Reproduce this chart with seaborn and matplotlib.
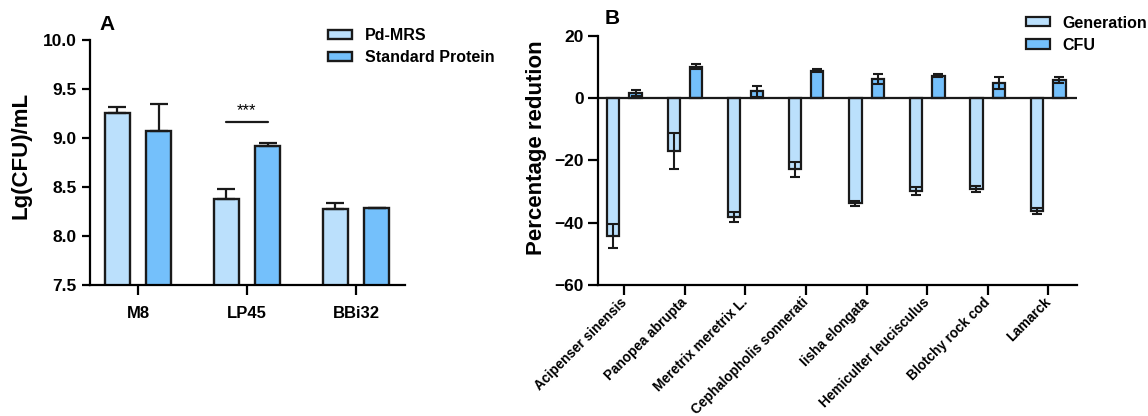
import numpy as np
import pandas as pd
import matplotlib
matplotlib.use("Agg")
import matplotlib.pyplot as plt
import seaborn as sns

# Panel A: viable counts per strain
strains = ["M8", "LP45", "BBi32"]
pd_mrs = [9.25, 8.38, 8.27]
pd_mrs_err = [0.07, 0.10, 0.07]
std_protein = [9.07, 8.92, 8.29]
std_protein_err = [0.28, 0.03, 0.0]

# Panel B: percentage reduction per protein source
species = ["Acipenser sinensis", "Panopea abrupta", "Meretrix meretrix L.",
           "Cephalopholis sonnerati", "Iisha elongata", "Hemiculter leucisculus",
           "Blotchy rock cod", "Lamarck"]
generation = [-44.2, -17.0, -38.1, -22.9, -33.8, -29.8, -29.3, -36.2]
generation_err = [3.8, 5.9, 1.6, 2.4, 0.8, 1.2, 1.0, 0.9]
cfu = [1.6, 10.0, 2.1, 8.8, 6.2, 7.2, 4.8, 5.7]
cfu_err = [1.0, 0.8, 1.7, 0.6, 1.6, 0.5, 1.9, 0.9]

light_blue = "#BBE0FC"
mid_blue = "#74C0FB"
edge = "#1a1a1a"

sns.set_style("ticks")
plt.rcParams["font.family"] = ["Liberation Sans", "DejaVu Sans"]
plt.rcParams["font.weight"] = "bold"
plt.rcParams["axes.linewidth"] = 1.6
for key in ["text.color", "axes.labelcolor", "xtick.color", "ytick.color", "axes.edgecolor"]:
    plt.rcParams[key] = "black"

df_a = pd.DataFrame({
    "Strain": strains * 2,
    "Value": pd_mrs + std_protein,
    "Group": ["Pd-MRS"] * 3 + ["Standard Protein"] * 3,
})
df_b = pd.DataFrame({
    "Species": species * 2,
    "Value": generation + cfu,
    "Group": ["Generation"] * 8 + ["CFU"] * 8,
})

fig = plt.figure(figsize=(11.48, 4.16), dpi=100)
ax_a = fig.add_axes([0.0784, 0.315, 0.2744, 0.589])
ax_b = fig.add_axes([0.5212, 0.315, 0.4167, 0.5993])

# ---- Panel A
sns.barplot(data=df_a, x="Strain", y="Value", hue="Group",
            palette=[light_blue, mid_blue], saturation=1, width=0.76, gap=0.4,
            edgecolor=edge, linewidth=1.7, errorbar=None, ax=ax_a)
for cont, vals, errs in zip(ax_a.containers, [pd_mrs, std_protein],
                            [pd_mrs_err, std_protein_err]):
    xs = [b.get_x() + b.get_width() / 2 for b in cont]
    ax_a.errorbar(xs, vals, yerr=[np.zeros(len(errs)), errs], fmt="none",
                  ecolor=edge, elinewidth=1.6, capsize=6.5, capthick=1.6, zorder=3)

# significance marker between LP45 bars
x1 = ax_a.containers[0][1].get_x() + ax_a.containers[0][1].get_width() / 2
x2 = ax_a.containers[1][1].get_x() + ax_a.containers[1][1].get_width() / 2
ax_a.plot([x1, x2], [9.16, 9.16], color=edge, lw=1.6)
ax_a.text((x1 + x2) / 2, 9.2, "***", ha="center", va="bottom",
          fontsize=12, fontweight="normal")

ax_a.set_ylim(7.5, 10.0)
ax_a.set_yticks(np.arange(7.5, 10.01, 0.5))
ax_a.set_yticklabels([f"{v:.1f}" for v in np.arange(7.5, 10.01, 0.5)])
ax_a.set_xlim(-0.44, 2.45)
ax_a.set_xlabel("")
ax_a.set_ylabel("Lg(CFU)/mL", fontsize=16, fontweight="bold")
ax_a.yaxis.set_label_coords(-0.187, 0.53)
ax_a.tick_params(axis="y", length=6, width=1.6, labelsize=12.5)
ax_a.tick_params(axis="x", length=7, width=1.6, labelsize=12, pad=8)
sns.despine(ax=ax_a)
sns.move_legend(ax_a, "center left", bbox_to_anchor=(0.2857, 0.888),
                bbox_transform=fig.transFigure, frameon=False, title=None,
                fontsize=11.5, handlelength=1.5, handleheight=0.5,
                handletextpad=0.8, labelspacing=0.45, borderpad=0,
                borderaxespad=0)

# ---- Panel B
sns.barplot(data=df_b, x="Species", y="Value", hue="Group",
            palette=[light_blue, mid_blue], saturation=1, width=0.74, gap=0.45,
            edgecolor=edge, linewidth=1.6, errorbar=None, ax=ax_b)
for cont, vals, errs in zip(ax_b.containers, [generation, cfu],
                            [generation_err, cfu_err]):
    xs = [b.get_x() + b.get_width() / 2 for b in cont]
    ax_b.errorbar(xs, vals, yerr=errs, fmt="none", ecolor=edge,
                  elinewidth=1.5, capsize=3.5, capthick=1.5, zorder=3)
ax_b.axhline(0, color=edge, lw=1.6, zorder=2)

ax_b.set_ylim(-60, 20)
ax_b.set_yticks([-60, -40, -20, 0, 20])
ax_b.set_xlim(-0.43, 7.47)
ax_b.set_xlabel("")
ax_b.set_ylabel("Percentage redution", fontsize=16, fontweight="bold")
ax_b.yaxis.set_label_coords(-0.108, 0.55)
ax_b.tick_params(axis="y", length=7, width=1.6, labelsize=12.5)
ax_b.tick_params(axis="x", length=7, width=1.6, labelsize=9.8, pad=4)
plt.setp(ax_b.get_xticklabels(), rotation=45, ha="right", va="center",
         rotation_mode="anchor")
sns.despine(ax=ax_b)
sns.move_legend(ax_b, "center left", bbox_to_anchor=(0.8937, 0.918),
                bbox_transform=fig.transFigure, frameon=False, title=None,
                fontsize=11.5, handlelength=1.5, handleheight=0.5,
                handletextpad=0.8, labelspacing=0.45, borderpad=0,
                borderaxespad=0)

fig.text(107 / 1148, 1 - 24 / 416, "A", fontsize=15, fontweight="bold",
         ha="center", va="center")
fig.text(612 / 1148, 1 - 19 / 416, "B", fontsize=15, fontweight="bold",
         ha="center", va="center")

fig.savefig("out.png", dpi=100)
